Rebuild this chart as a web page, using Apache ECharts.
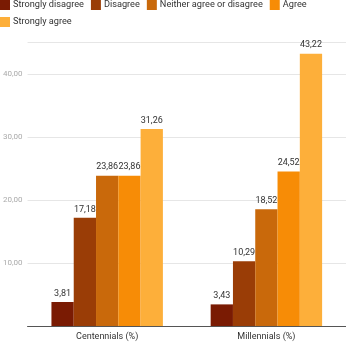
<!DOCTYPE html>
<html><head><meta charset="utf-8">
<script src="https://cdn.jsdelivr.net/npm/echarts@6/dist/echarts.min.js"></script>
<style>html,body{margin:0;padding:0;background:#fff}#c{width:346px;height:345px}</style>
</head><body><div id="c"></div>
<script>
const categories = ['Centennials (%)', 'Millennials (%)'];
const seriesNames = ['Strongly disagree', 'Disagree', 'Neither agree or disagree', 'Agree', 'Strongly agree'];
const stronglyDisagree = [3.81, 3.43];
const disagree = [17.18, 10.29];
const neither = [23.86, 18.52];
const agree = [23.86, 24.52];
const stronglyAgree = [31.26, 43.22];
const yTicks = [10, 20, 30, 40];
const colors = ['#7a1b03', '#9a3d06', '#c9690b', '#f78c06', '#fdaf3a'];
const values = [stronglyDisagree, disagree, neither, agree, stronglyAgree];
const fmt = v => v.toFixed(2).replace('.', ',');
const chart = echarts.init(document.getElementById('c'));
chart.setOption({
  animation: false,
  textStyle: { fontFamily: 'Roboto' },
  legend: {
    left: 0, top: 0, padding: 0, itemWidth: 10, itemHeight: 10, itemGap: 7,
    icon: 'rect',
    textStyle: { fontSize: 9.2, color: '#333', padding: [0, 0, 0, -2] },
    data: seriesNames
  },
  grid: { left: 26, right: 0, top: 42.5, bottom: 19, containLabel: false },
  xAxis: {
    type: 'category', data: categories,
    axisLine: { lineStyle: { color: '#555' } },
    axisTick: { alignWithLabel: true, length: 3, lineStyle: { color: '#555' }, interval: 0 },
    axisLabel: { fontSize: 9, color: '#333', margin: 6 }
  },
  yAxis: {
    type: 'value', min: 0, max: 45, interval: 10,
    axisLine: { show: false }, axisTick: { show: false },
    splitLine: { lineStyle: { color: '#e6e6e6' } },
    axisLabel: {
      fontSize: 8, color: '#aaa', margin: 5,
      formatter: v => (yTicks.includes(v) ? fmt(v) : '')
    }
  },
  series: seriesNames.map((n, i) => ({
    name: n, type: 'bar', data: values[i],
    barGap: '0%', barCategoryGap: '30%',
    itemStyle: { color: colors[i] },
    label: { show: true, position: 'top', fontSize: 9, color: '#333', distance: 4, formatter: p => fmt(p.value) }
  }))
});
</script></body></html>
